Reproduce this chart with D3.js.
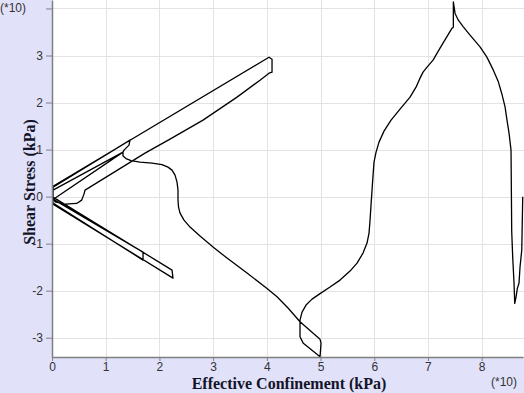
<!DOCTYPE html>
<html>
<head>
<meta charset="utf-8">
<script src="https://cdn.jsdelivr.net/npm/d3@7"></script>
<style>
  body { margin: 0; background: #e1e1fa; }
  .chart { width: 524px; height: 393px; overflow: hidden; }
</style>
</head>
<body>
<div class="chart"></div>
<script>
// stress path (values are *10)
var confinement = [
  0.02, 0.02, 1.452, 1.434, 1.341, 1.322, 0.019, 0.019, 1.695, 1.695, 0.019,
  0.019, 4.041, 4.097, 4.097, 4.041, 3.873, 3.445, 2.812, 2.197, 1.732, 0.615,
  0.596, 0.553, 0.46, 0.242, 0.056, 0.019, 2.235, 2.253, 0.019,
  0.019, 1.322, 1.322, 1.378, 1.471, 1.639, 1.862, 2.048, 2.16, 2.235, 2.291,
  2.328, 2.346, 2.346, 2.356, 2.384, 2.458, 2.57, 2.756, 2.998, 3.259, 3.631,
  4.004, 4.19, 4.395, 4.618, 4.991, 5.009, 4.991,
  4.68, 4.618, 4.618, 4.656, 4.73, 4.842, 4.991, 5.177, 5.363, 5.549, 5.68,
  5.791, 5.866, 5.903, 5.922, 5.94, 5.959, 5.978, 5.996, 6.034, 6.089, 6.182,
  6.313, 6.48, 6.667, 6.778, 6.853, 6.909, 6.983, 7.095, 7.225, 7.337, 7.449,
  7.473, 7.473, 7.505, 7.566, 7.659, 7.784, 7.97, 8.095, 8.218, 8.311, 8.374,
  8.436, 8.467, 8.51, 8.547, 8.56, 8.579, 8.603, 8.616, 8.641, 8.665, 8.696,
  8.715, 8.747, 8.765
];
var shear = [
  -0.01, 0.2, 1.2, 1.095, 0.988, 0.946, 0.138, -0.053, -1.18, -1.35, -0.138,
  0.22, 2.964, 2.922, 2.646, 2.625, 2.476, 2.115, 1.626, 1.222, 0.925, 0.138,
  0.053, -0.074, -0.145, -0.159, -0.111, -0.01, -1.562, -1.732, -0.159,
  -0.06, 0.946, 0.861, 0.808, 0.765, 0.733, 0.712, 0.68, 0.627, 0.563, 0.457,
  0.308, 0.138, -0.074, -0.223, -0.351, -0.499, -0.648, -0.839, -1.073, -1.307, -1.626,
  -1.952, -2.13, -2.369, -2.661, -3.035, -3.114, -3.405,
  -3.12, -2.98, -2.625, -2.455, -2.306, -2.179, -2.062, -1.923, -1.775, -1.583, -1.413,
  -1.201, -0.988, -0.776, -0.499, -0.181, 0.138, 0.457, 0.733, 0.946, 1.158, 1.392,
  1.626, 1.86, 2.115, 2.327, 2.519, 2.646, 2.752, 2.901, 3.156, 3.369, 3.581,
  3.603, 4.14, 3.894, 3.751, 3.609, 3.433, 3.184, 2.971, 2.689, 2.44, 2.193,
  1.909, 1.662, 1.35, 0.988, -0.748, -1.307, -1.838, -2.27, -2.13, -1.951, -1.838,
  -1.492, -1.137, -0.004
];
var xTicks = [0, 1, 2, 3, 4, 5, 6, 7, 8];
var yTicks = [-3, -2, -1, 0, 1, 2, 3, 4];
var yTickLabels = ["-3", "-2", "-1", "0", "1", "2", "3", ""];

var data = confinement.map(function (d, i) {
  return { p: d, q: shear[i] };
});

var margin = { top: 0, right: 1, bottom: 36, left: 52 };
const width = 524 - margin.left - margin.right;
const height = 393 - margin.top - margin.bottom;

var svg = d3
  .select(".chart")
  .append("svg")
  .attr("width", 524)
  .attr("height", 393)
  .style("font-family", "Arial, 'Liberation Sans', sans-serif");

svg.append("rect").attr("width", 524).attr("height", 393).attr("fill", "#e1e1fa");

var g = svg
  .append("g")
  .attr("transform", "translate(" + margin.left + "," + margin.top + ")");

// scales
var x = d3.scaleLinear().domain([0, 8.77]).range([0, width]);
var y = d3.scaleLinear().domain([-3.41, 4.18]).range([height, 0]);

// plot area
g.append("rect")
  .attr("width", width + 1)
  .attr("height", height)
  .attr("fill", "#ffffff");

// grid
g.append("g")
  .selectAll("line")
  .data(xTicks.slice(1))
  .enter()
  .append("line")
  .attr("x1", (d) => Math.round(x(d)) + 0.5)
  .attr("x2", (d) => Math.round(x(d)) + 0.5)
  .attr("y1", 0)
  .attr("y2", height)
  .attr("stroke", "#e3e3e3");

g.append("g")
  .selectAll("line")
  .data(yTicks)
  .enter()
  .append("line")
  .attr("x1", 0)
  .attr("x2", width + 1)
  .attr("y1", (d) => Math.round(y(d)) + 0.5)
  .attr("y2", (d) => Math.round(y(d)) + 0.5)
  .attr("stroke", "#e3e3e3");

// stress path
var line = d3
  .line()
  .x((d) => x(d.p))
  .y((d) => y(d.q));

g.append("path")
  .datum(data)
  .attr("d", line)
  .attr("fill", "none")
  .attr("stroke", "#000")
  .attr("stroke-width", 1.3)
  .attr("stroke-linejoin", "round");

// axes
var xAxis = g
  .append("g")
  .attr("transform", "translate(0," + height + ")")
  .call(d3.axisBottom(x).tickValues(xTicks).tickSize(4).tickSizeOuter(0).tickFormat(d3.format("d")));

var yAxis = g
  .append("g")
  .call(
    d3
      .axisLeft(y)
      .tickValues(yTicks)
      .tickSize(6)
      .tickPadding(3)
      .tickSizeOuter(0)
      .tickFormat((d, i) => yTickLabels[i])
  );

[xAxis, yAxis].forEach(function (a) {
  a.select(".domain").attr("stroke", "#808080").attr("stroke-width", 1.5);
  a.selectAll(".tick line").attr("stroke", "#808080");
  a.selectAll(".tick text")
    .attr("fill", "#333")
    .style("font-size", "12px")
    .style("font-family", "Arial, 'Liberation Sans', sans-serif");
});
xAxis.selectAll(".tick text").attr("dy", "0.6em");

// axis titles
svg
  .append("text")
  .attr("text-anchor", "middle")
  .attr("x", 289)
  .attr("y", 389)
  .text("Effective Confinement (kPa)")
  .style("font-family", "'Liberation Serif', 'Times New Roman', serif")
  .style("font-weight", "bold")
  .style("font-size", "16px")
  .attr("fill", "#141428");

svg
  .append("text")
  .attr("text-anchor", "middle")
  .attr("transform", "translate(35,182) rotate(-90)")
  .text("Shear Stress (kPa)")
  .style("font-family", "'Liberation Serif', 'Times New Roman', serif")
  .style("font-weight", "bold")
  .style("font-size", "16px")
  .attr("fill", "#141428");

// multiplier notes
svg
  .append("text")
  .attr("x", 0)
  .attr("y", 12)
  .text("(*10)")
  .style("font-size", "12px")
  .attr("fill", "#333");

svg
  .append("text")
  .attr("x", 491)
  .attr("y", 386)
  .text("(*10)")
  .style("font-size", "12px")
  .attr("fill", "#333");
</script>
</body>
</html>
